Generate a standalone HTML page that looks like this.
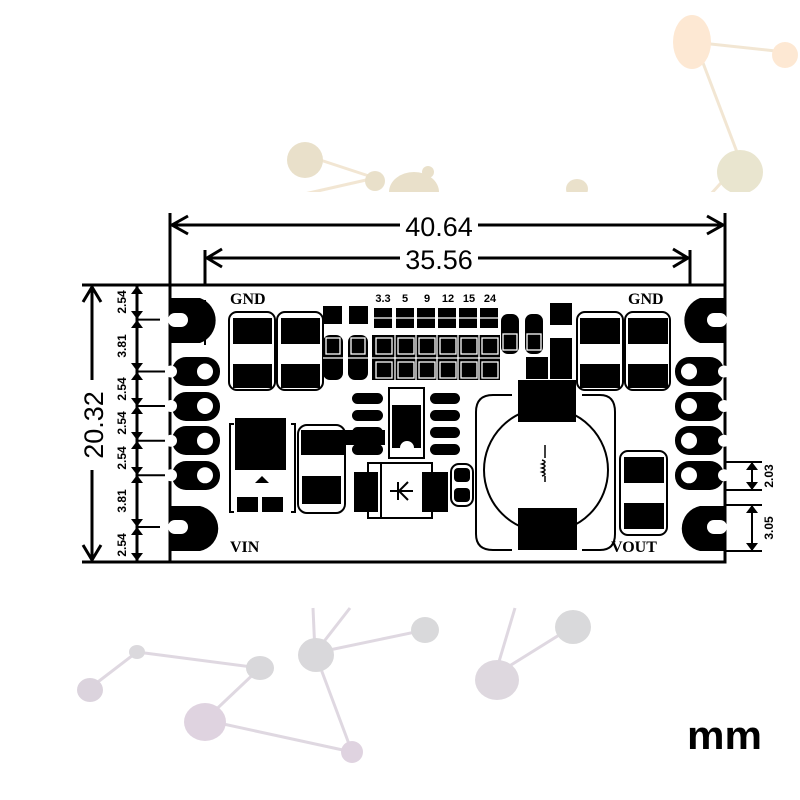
<!DOCTYPE html>
<html><head><meta charset="utf-8"><style>
html,body{margin:0;padding:0;background:#fff;width:800px;height:800px;overflow:hidden}
svg{display:block}
.s{font-family:"Liberation Serif",serif;font-weight:bold}
.a{font-family:"Liberation Sans",sans-serif}
</style></head><body>
<svg width="800" height="800" viewBox="0 0 800 800" xmlns="http://www.w3.org/2000/svg">
<g opacity="0.55">
<g stroke="#e8d3b0" stroke-width="3" fill="none">
<line x1="692" y1="42" x2="785" y2="52"/><line x1="700" y1="55" x2="740" y2="160"/>
<line x1="740" y1="162" x2="710" y2="195"/>
<line x1="305" y1="155" x2="375" y2="178"/><line x1="375" y1="178" x2="300" y2="195"/>
<line x1="428" y1="172" x2="412" y2="195"/>
</g>
<ellipse cx="692" cy="42" rx="19" ry="27" fill="#fcd6b0"/>
<ellipse cx="785" cy="55" rx="13" ry="13" fill="#fcd6b0"/>
<ellipse cx="740" cy="172" rx="23" ry="22" fill="#d8d0a8"/>
<ellipse cx="305" cy="160" rx="18" ry="18" fill="#d8c8a0"/>
<ellipse cx="375" cy="181" rx="10" ry="10" fill="#d8c8a0"/>
<ellipse cx="414" cy="192" rx="25" ry="20" fill="#d8c8a0"/>
<ellipse cx="428" cy="172" rx="6" ry="6" fill="#d8c8a0"/>
<ellipse cx="577" cy="189" rx="11" ry="10" fill="#d8c8a0"/>
</g>
<rect x="260" y="192" width="540" height="20" fill="#fff"/>
<g opacity="0.65">
<g stroke="#cfc4d2" stroke-width="3" fill="none">
<line x1="90" y1="688" x2="137" y2="652"/><line x1="137" y1="652" x2="260" y2="668"/>
<line x1="260" y1="668" x2="205" y2="720"/><line x1="205" y1="720" x2="352" y2="752"/>
<line x1="352" y1="752" x2="315" y2="653"/><line x1="315" y1="653" x2="425" y2="630"/>
<line x1="315" y1="653" x2="313" y2="608"/><line x1="315" y1="653" x2="350" y2="608"/>
<line x1="495" y1="675" x2="572" y2="627"/><line x1="495" y1="675" x2="515" y2="608"/>
</g>
<ellipse cx="90" cy="690" rx="13" ry="12" fill="#c9bccc"/>
<ellipse cx="137" cy="652" rx="8" ry="7" fill="#c9c6cc"/>
<ellipse cx="260" cy="668" rx="14" ry="12" fill="#c6c4c8"/>
<ellipse cx="205" cy="722" rx="21" ry="19" fill="#cfbcd0"/>
<ellipse cx="352" cy="752" rx="11" ry="11" fill="#cfbcd0"/>
<ellipse cx="316" cy="655" rx="18" ry="17" fill="#c6c4c8"/>
<ellipse cx="425" cy="630" rx="14" ry="13" fill="#c6c6c8"/>
<ellipse cx="497" cy="680" rx="22" ry="20" fill="#cdc4cf"/>
<ellipse cx="573" cy="627" rx="18" ry="17" fill="#c6c6c8"/>
</g>
<text x="687" y="749" class="a" font-size="40" font-weight="bold" textLength="75" lengthAdjust="spacingAndGlyphs">mm</text>

<g stroke="#000" stroke-width="3" fill="none">
<line x1="170" y1="213" x2="170" y2="285"/><line x1="725" y1="213" x2="725" y2="285"/>
<line x1="172" y1="225" x2="723" y2="225"/>
<polyline points="188,216 172,225 188,234"/><polyline points="707,216 723,225 707,234"/>
<line x1="205" y1="250" x2="205" y2="345"/><line x1="690" y1="250" x2="690" y2="345"/>
<line x1="207" y1="258" x2="688" y2="258"/>
<polyline points="222,249 207,258 222,267"/><polyline points="673,249 688,258 673,267"/>
</g>
<rect x="400" y="210" width="78" height="28" fill="#fff"/>
<text x="439" y="236" class="a" font-size="27" text-anchor="middle">40.64</text>
<rect x="400" y="244" width="78" height="28" fill="#fff"/>
<text x="439" y="269" class="a" font-size="27" text-anchor="middle">35.56</text>

<g stroke="#000" stroke-width="3" fill="none">
<line x1="82" y1="285" x2="170" y2="285"/><line x1="82" y1="562" x2="170" y2="562"/>
<line x1="92" y1="287" x2="92" y2="560"/>
<polyline points="83,302 92,287 101,302"/><polyline points="83,545 92,560 101,545"/>
<line x1="137" y1="285" x2="137" y2="562"/>
</g>
<rect x="78" y="380" width="28" height="90" fill="#fff"/>
<text transform="translate(103,425) rotate(-90)" class="a" font-size="27" text-anchor="middle">20.32</text>
<g stroke="#000" stroke-width="2">
<line x1="137" y1="319.6" x2="160" y2="319.6"/><line x1="137" y1="371.5" x2="165" y2="371.5"/>
<line x1="137" y1="406" x2="165" y2="406"/><line x1="137" y1="440.7" x2="165" y2="440.7"/>
<line x1="137" y1="475.3" x2="165" y2="475.3"/><line x1="137" y1="527" x2="160" y2="527"/>
</g>
<g fill="#000">
<path d="M131,294 L137,286 L143,294Z"/>
<path d="M131,311 L137,319 L143,311Z M131,328 L137,320 L143,328Z"/>
<path d="M131,363 L137,371 L143,363Z M131,380 L137,372 L143,380Z"/>
<path d="M131,398 L137,406 L143,398Z M131,414 L137,406 L143,414Z"/>
<path d="M131,432 L137,440 L143,432Z M131,449 L137,441 L143,449Z"/>
<path d="M131,467 L137,475 L143,467Z M131,483 L137,475 L143,483Z"/>
<path d="M131,519 L137,527 L143,519Z M131,535 L137,527 L143,535Z"/>
<path d="M131,553 L137,561 L143,553Z"/>
</g>
<g class="a" font-size="12" font-weight="bold" text-anchor="middle">
<text transform="translate(126,302) rotate(-90)">2.54</text>
<text transform="translate(126,346) rotate(-90)">3.81</text>
<text transform="translate(126,389) rotate(-90)">2.54</text>
<text transform="translate(126,423) rotate(-90)">2.54</text>
<text transform="translate(126,458) rotate(-90)">2.54</text>
<text transform="translate(126,501) rotate(-90)">3.81</text>
<text transform="translate(126,545) rotate(-90)">2.54</text>
</g>

<g stroke="#000" stroke-width="2" fill="none">
<line x1="725" y1="462" x2="762" y2="462"/><line x1="725" y1="490" x2="762" y2="490"/>
<line x1="725" y1="505" x2="762" y2="505"/><line x1="725" y1="551" x2="762" y2="551"/>
<line x1="752" y1="462" x2="752" y2="490"/><line x1="752" y1="505" x2="752" y2="551"/>
</g>
<g fill="#000">
<path d="M746,470 L752,462 L758,470Z M746,482 L752,490 L758,482Z"/>
<path d="M746,513 L752,505 L758,513Z M746,543 L752,551 L758,543Z"/>
</g>
<g class="a" font-size="12" font-weight="bold" text-anchor="middle">
<text transform="translate(773,476) rotate(-90)">2.03</text>
<text transform="translate(773,528) rotate(-90)">3.05</text>
</g>

<rect x="170" y="285" width="555" height="277" fill="#fff" stroke="#000" stroke-width="3"/>

<g fill="#000">
<path d="M170,298 L200,298 A24,24 0 0 1 200,343 L170,343Z"/>
<path d="M170,506 L200,506 A23,23 0 0 1 200,551 L170,551Z"/>
<rect x="172" y="357" width="48" height="29" rx="14"/>
<rect x="172" y="392" width="48" height="29" rx="14"/>
<rect x="172" y="426" width="48" height="29" rx="14"/>
<rect x="172" y="461" width="48" height="29" rx="14"/>
<path d="M725,298 L700,298 A24,24 0 0 0 700,343 L725,343Z"/>
<path d="M725,506 L700,506 A23,23 0 0 0 700,551 L725,551Z"/>
<rect x="675" y="357" width="49" height="29" rx="14"/>
<rect x="675" y="392" width="49" height="29" rx="14"/>
<rect x="675" y="426" width="49" height="29" rx="14"/>
<rect x="675" y="461" width="49" height="29" rx="14"/>
</g>
<g fill="#fff">
<rect x="168" y="313" width="20" height="14" rx="7"/>
<rect x="168" y="520" width="20" height="14" rx="7"/>
<rect x="707" y="313" width="20" height="14" rx="7"/>
<rect x="707" y="520" width="20" height="14" rx="7"/>
<circle cx="205" cy="371.5" r="8"/><circle cx="205" cy="406" r="8"/><circle cx="205" cy="440.7" r="8"/><circle cx="205" cy="475.3" r="8"/>
<circle cx="171" cy="371.5" r="6"/><circle cx="171" cy="406" r="6"/><circle cx="171" cy="440.7" r="6"/><circle cx="171" cy="475.3" r="6"/>
<circle cx="689" cy="371.5" r="8"/><circle cx="689" cy="406" r="8"/><circle cx="689" cy="440.7" r="8"/><circle cx="689" cy="475.3" r="8"/>
<circle cx="724" cy="371.5" r="6"/><circle cx="724" cy="406" r="6"/><circle cx="724" cy="440.7" r="6"/><circle cx="724" cy="475.3" r="6"/>
</g>
<line x1="205" y1="300" x2="205" y2="345" stroke="#000" stroke-width="2"/>

<g class="s" font-size="16">
<text x="230" y="304">GND</text><text x="628" y="304">GND</text>
<text x="230" y="552">VIN</text><text x="611" y="552">VOUT</text>
</g>
<g class="a" font-size="11" font-weight="bold" text-anchor="middle">
<text x="383" y="302">3.3</text><text x="405" y="302">5</text><text x="427" y="302">9</text>
<text x="448" y="302">12</text><text x="469" y="302">15</text><text x="490" y="302">24</text>
</g>

<g fill="none" stroke="#000" stroke-width="2">
<rect x="229" y="312" width="46" height="78" rx="8"/><rect x="277" y="312" width="46" height="78" rx="8"/>
<rect x="577" y="312" width="46" height="78" rx="8"/><rect x="625" y="312" width="45" height="78" rx="8"/>
</g>
<g fill="#000">
<rect x="233" y="318" width="39" height="26"/><rect x="281" y="318" width="39" height="26"/>
<rect x="233" y="364" width="39" height="24"/><rect x="281" y="364" width="39" height="24"/>
<rect x="580" y="318" width="40" height="26"/><rect x="628" y="318" width="40" height="26"/>
<rect x="580" y="364" width="40" height="24"/><rect x="628" y="364" width="40" height="24"/>
</g>

<g fill="#000">
<rect x="323" y="306" width="19" height="18"/><rect x="349" y="306" width="19" height="18"/>
<rect x="374" y="308" width="18" height="20"/><rect x="396" y="308" width="18" height="20"/>
<rect x="417" y="308" width="18" height="20"/><rect x="438" y="308" width="18" height="20"/>
<rect x="459" y="308" width="18" height="20"/><rect x="480" y="308" width="18" height="20"/>
<rect x="323" y="335" width="20" height="45" rx="7"/><rect x="348" y="335" width="20" height="45" rx="7"/>
<rect x="372" y="335" width="128" height="45"/>
<rect x="501" y="314" width="18" height="40" rx="7"/><rect x="525" y="314" width="18" height="40" rx="7"/>
<rect x="550" y="303" width="22" height="22"/><rect x="550" y="338" width="22" height="22"/>
<rect x="526" y="357" width="22" height="22"/><rect x="550" y="357" width="22" height="22"/>
</g>
<g stroke="#fff" stroke-width="1.3" fill="none">
<line x1="372" y1="318" x2="500" y2="318"/>
<line x1="370" y1="358" x2="502" y2="358"/>
<line x1="323" y1="358" x2="368" y2="358"/>
<line x1="395" y1="335" x2="395" y2="380"/><line x1="416" y1="335" x2="416" y2="380"/>
<line x1="437" y1="335" x2="437" y2="380"/><line x1="458" y1="335" x2="458" y2="380"/>
<line x1="479" y1="335" x2="479" y2="380"/>
<rect x="376" y="338" width="16" height="16"/><rect x="376" y="362" width="16" height="16"/>
<rect x="398" y="338" width="16" height="16"/><rect x="398" y="362" width="16" height="16"/>
<rect x="419" y="338" width="16" height="16"/><rect x="419" y="362" width="16" height="16"/>
<rect x="440" y="338" width="16" height="16"/><rect x="440" y="362" width="16" height="16"/>
<rect x="461" y="338" width="16" height="16"/><rect x="461" y="362" width="16" height="16"/>
<rect x="482" y="338" width="16" height="16"/><rect x="482" y="362" width="16" height="16"/>
<rect x="326" y="338" width="14" height="16"/><rect x="351" y="338" width="14" height="16"/>
<rect x="503" y="334" width="14" height="16"/><rect x="527" y="334" width="14" height="16"/>
<line x1="550" y1="331" x2="572" y2="331"/>
</g>

<g fill="none" stroke="#000" stroke-width="2">
<polyline points="234,424 230,424 230,512 234,512"/><polyline points="291,424 295,424 295,512 291,512"/>
</g>
<g fill="#000">
<rect x="235" y="418" width="51" height="52"/>
<path d="M255,483 L262,476 L269,483Z"/>
<rect x="237" y="497" width="21" height="15"/><rect x="262" y="497" width="21" height="15"/>
</g>
<rect x="298" y="425" width="47" height="88" rx="9" fill="none" stroke="#000" stroke-width="2"/>
<g fill="#000">
<path d="M301,430 L385,430 L385,445 L345,445 L345,455 L301,455Z"/>
<rect x="302" y="476" width="39" height="28"/>
</g>
<rect x="389" y="388" width="35" height="70" fill="none" stroke="#000" stroke-width="2"/>
<path d="M392,405 L421,405 L421,448 L414,448 A7,7 0 0 0 400,448 L392,448Z" fill="#000"/>
<g fill="#000">
<rect x="352" y="393" width="31" height="11" rx="5.5"/><rect x="352" y="410" width="31" height="11" rx="5.5"/>
<rect x="352" y="427" width="31" height="11" rx="5.5"/><rect x="352" y="444" width="31" height="11" rx="5.5"/>
<rect x="430" y="393" width="30" height="11" rx="5.5"/><rect x="430" y="410" width="30" height="11" rx="5.5"/>
<rect x="430" y="427" width="30" height="11" rx="5.5"/><rect x="430" y="444" width="30" height="11" rx="5.5"/>
</g>
<g fill="none" stroke="#000" stroke-width="2">
<rect x="368" y="463" width="64" height="55"/><line x1="381" y1="463" x2="381" y2="518"/>
</g>
<g fill="#000">
<rect x="354" y="472" width="24" height="40"/><rect x="422" y="472" width="26" height="40"/>
</g>
<g stroke="#000" stroke-width="2" fill="none">
<line x1="390" y1="491" x2="413" y2="491"/><line x1="398" y1="482" x2="398" y2="500"/>
<path d="M408,482 L399,491 L408,500"/>
</g>
<rect x="451" y="464" width="22" height="42" rx="8" fill="none" stroke="#000" stroke-width="2"/>
<rect x="454" y="468" width="16" height="14" rx="4" fill="#000"/><rect x="454" y="488" width="16" height="14" rx="4" fill="#000"/>
<path d="M512,395 L493,395 Q476,395 476,412 L476,534 Q476,550 493,550 L512,550 M582,395 L600,395 Q615,395 615,412 L615,534 Q615,550 600,550 L582,550" fill="none" stroke="#000" stroke-width="2"/>
<circle cx="546" cy="470" r="62" fill="none" stroke="#000" stroke-width="2"/>
<rect x="518" y="380" width="58" height="42" fill="#000"/>
<rect x="518" y="508" width="59" height="42" fill="#000"/>
<path d="M545,445 L545,458 M542,460 q6,2 0,4 q6,2 0,4 q6,2 0,4 q6,2 0,4 M545,476 L545,482" fill="none" stroke="#000" stroke-width="1.5"/>
<rect x="620" y="451" width="47" height="84" rx="8" fill="none" stroke="#000" stroke-width="2"/>
<rect x="624" y="457" width="40" height="26" fill="#000"/><rect x="624" y="503" width="40" height="26" fill="#000"/>
</svg>
</body></html>
